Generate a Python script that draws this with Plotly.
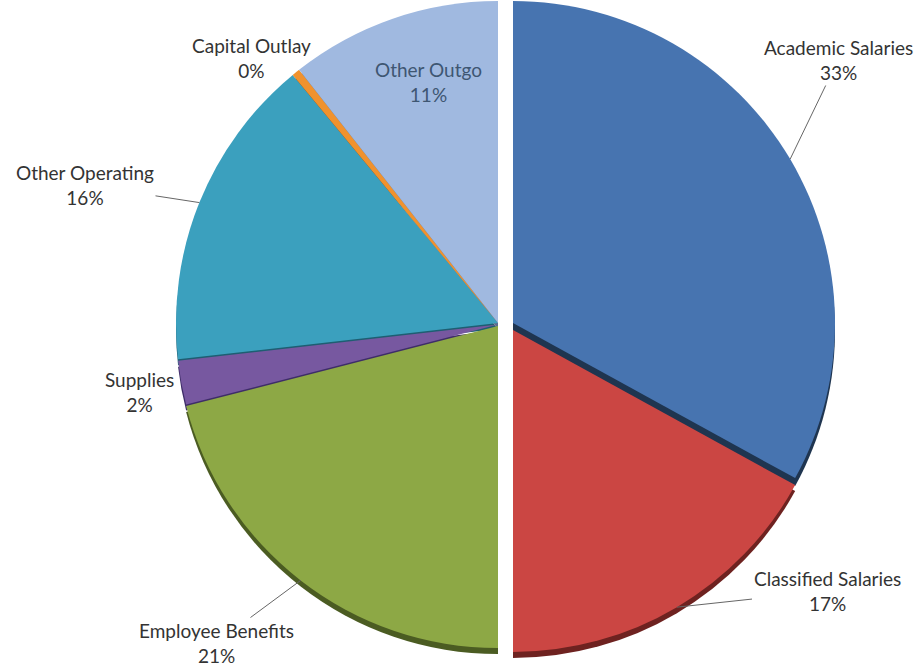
import math
import plotly.graph_objects as go

# ---- data ----
labels = ["Academic Salaries", "Classified Salaries", "Employee Benefits", "Supplies",
          "Other Operating", "Capital Outlay", "Other Outgo"]
values = [33.0, 17.0, 21.0, 2.2, 15.8, 0.4, 10.6]
pct_text = ["33%", "17%", "21%", "2%", "16%", "0%", "11%"]

# ---- style ----
colors = ["#4774B0", "#CB4643", "#8DA845", "#7758A0", "#3BA0BE", "#F0922E", "#A0B9E0"]
dark = ["#1F3550", "#6E2220", "#4B5C22", "#3E2D68", "#1E5E72", "#6A3A0E", "#5A6E8E"]

W, H = 922, 668
R = 322
CY = 323
CX = 500
# per-slice face offset (dx, dy) in pixels (exploded right half, stacked 3D look)
offsets = [(13, 0), (13, 7), (-2, 3), (-2, 1.5), (-2, 0), (-2, 0), (-2, 0)]
depths = [8, 6, 6, 6, 6, 6, 6]

# label text centres (pixels) and whether a leader line is drawn
label_pos = [(838, 60), (827, 591), (216, 643), (139, 392), (85, 185), (251, 58), (428, 82)]
leader = [True, True, True, False, True, True, False]
FONT = "Lato, 'Open Sans', sans-serif"
FSIZE = 19


def domain(cx, cy, r):
    return dict(x=[(cx - r) / W, (cx + r) / W], y=[1 - (cy + r) / H, 1 - (cy - r) / H])


def pie(cols, idx, extra_dy):
    dx, dy = offsets[idx]
    return go.Pie(
        labels=labels, values=values, sort=False, direction="clockwise", rotation=0,
        marker=dict(colors=[c if j == idx else "rgba(0,0,0,0)" for j, c in enumerate(cols)],
                    line=dict(width=0)),
        textinfo="none", hoverinfo="label+percent" if extra_dy == 0 else "skip",
        showlegend=False,
        domain=domain(CX + dx, CY + dy + extra_dy, R),
    )


fig = go.Figure()
# depth (3D edge) layers
for i in range(len(values)):
    fig.add_trace(pie(dark, i, depths[i]))
# top faces
for i in range(len(values)):
    fig.add_trace(pie(colors, i, 0))

total = sum(values)
cum = 0.0
annotations = []
for i, (lab, v) in enumerate(zip(labels, values)):
    theta = 2 * math.pi * (cum + v / 2) / total
    cum += v
    dx, dy = offsets[i]
    tipx = CX + dx + R * math.sin(theta)
    tipy = CY + dy - R * math.cos(theta)
    tx, ty = label_pos[i]
    txt = f"{lab}<br>{pct_text[i]}"
    color = "#3E5672" if lab == "Other Outgo" else "#333333"
    if leader[i]:
        annotations.append(dict(
            x=tipx / W, y=1 - tipy / H, xref="paper", yref="paper",
            ax=tx - tipx, ay=ty - tipy, axref="pixel", ayref="pixel",
            text=txt, showarrow=True, arrowhead=0, arrowwidth=1, arrowcolor="#666666",
            standoff=0, startstandoff=0,
            font=dict(family=FONT, size=FSIZE, color=color),
            align="center",
        ))
    else:
        annotations.append(dict(
            x=tx / W, y=1 - ty / H, xref="paper", yref="paper",
            xanchor="center", yanchor="middle",
            text=txt, showarrow=False,
            font=dict(family=FONT, size=FSIZE, color=color),
            align="center",
        ))

fig.update_layout(
    width=W, height=H, margin=dict(l=0, r=0, t=0, b=0),
    paper_bgcolor="white", plot_bgcolor="white",
    annotations=annotations,
)

fig.write_html("out.html")
